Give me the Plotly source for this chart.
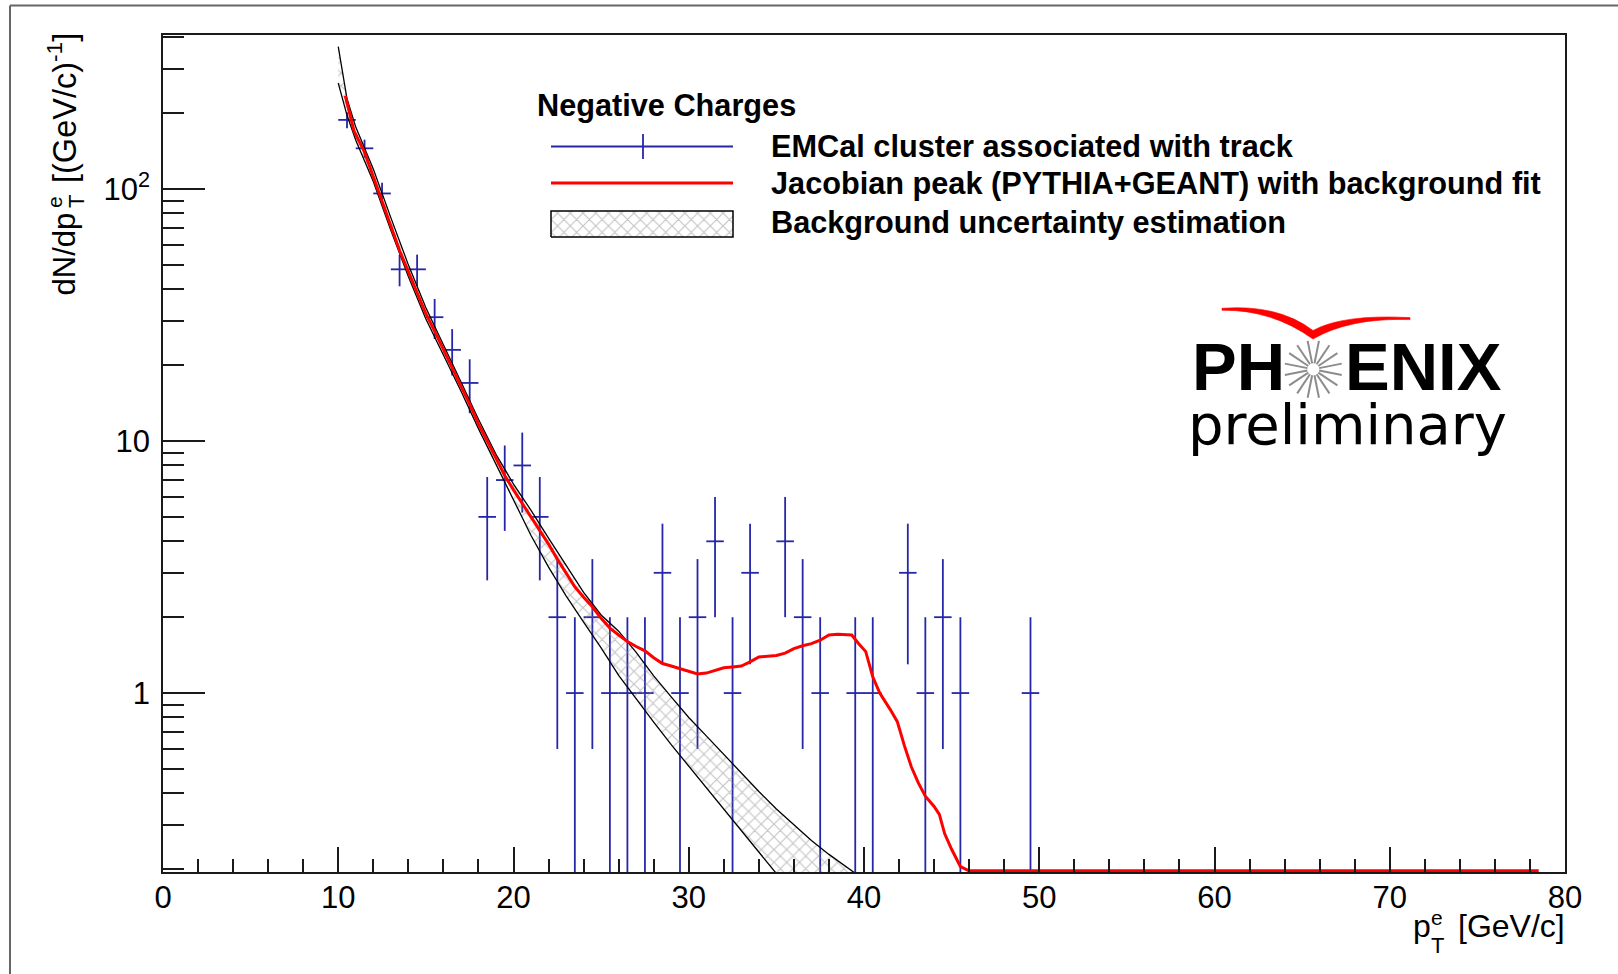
import math
import plotly.graph_objects as go

# ---------------- data ----------------
pt_centers = [10.5, 11.5, 12.5, 13.5, 14.5, 15.5, 16.5, 17.5, 18.5, 19.5, 20.5, 21.5,
              22.5, 23.5, 24.5, 25.5, 26.5, 27.5, 28.5, 29.5, 30.5, 31.5, 32.5, 33.5,
              35.5, 36.5, 37.5, 39.5, 40.5, 42.5, 43.5, 44.5, 45.5, 49.5]
counts = [188, 145, 96, 48, 48, 31, 23, 17, 5, 7, 8, 5,
          2, 1, 2, 1, 1, 1, 3, 1, 2, 4, 1, 3,
          4, 2, 1, 1, 1, 3, 1, 2, 1, 1]
count_err = [13.7, 12.0, 9.8, 6.9, 6.9, 5.6, 4.8, 4.1, 2.2, 2.6, 2.8, 2.2,
             1.4, 1.0, 1.4, 1.0, 1.0, 1.0, 1.7, 1.0, 1.4, 2.0, 1.0, 1.7,
             2.0, 1.4, 1.0, 1.0, 1.0, 1.7, 1.0, 1.4, 1.0, 1.0]
bin_half_width = 0.5

# Jacobian peak (PYTHIA+GEANT) with background fit
red_x = [10.4, 10.9, 11.5, 12.0, 12.5, 13.0, 13.5, 14.0, 14.5, 15.0, 15.5, 16.0,
         16.5, 17.0, 17.5, 18.0, 18.5, 19.0, 19.5, 20.0, 20.5, 21.0, 21.5, 22.0,
         22.5, 23.0, 23.5, 24.0, 24.5, 25.0, 25.5, 26.0, 26.5, 27.0, 27.5, 28.0,
         28.5, 29.0, 29.5, 30.0, 30.5, 31.0, 31.5, 32.0, 32.5, 33.0, 33.5, 34.0,
         34.5, 35.0, 35.5, 36.0, 36.5, 37.0, 37.5, 38.0, 38.5, 39.0, 39.3, 39.7,
         40.1, 40.5, 40.9, 41.5, 41.9, 42.3, 42.7, 43.1, 43.5, 44.0, 44.3, 44.6,
         45.0, 45.5, 46.0, 78.5]
red_y = [234, 170, 140, 112, 89, 72, 57, 47, 38.5, 32, 27.3, 23,
         19.5, 16.5, 14.0, 11.7, 10.0, 8.5, 7.3, 6.4, 5.65, 5.05, 4.45, 3.9,
         3.4, 3.0, 2.64, 2.4, 2.2, 1.98, 1.81, 1.7, 1.6, 1.53, 1.47, 1.38,
         1.31, 1.28, 1.25, 1.22, 1.19, 1.20, 1.23, 1.26, 1.27, 1.28, 1.33, 1.39,
         1.40, 1.41, 1.44, 1.50, 1.54, 1.57, 1.62, 1.70, 1.71, 1.71, 1.70, 1.57,
         1.46, 1.16, 1.0, 0.86, 0.77, 0.62, 0.51, 0.44, 0.39, 0.355, 0.33, 0.277,
         0.24, 0.205, 0.197, 0.197]

# Background uncertainty band
band_upper_x = [10, 10.5, 11, 12, 13, 14, 15, 16, 17, 18, 19, 20, 21, 22, 23, 24, 25,
                26, 27, 28, 29, 30, 31, 32, 33, 34, 35, 36, 37, 38, 39, 40]
band_upper = [367, 228, 176, 120, 77, 50, 33.8, 24.2, 17.2, 12.2, 8.85, 6.75, 5.31,
              4.12, 3.2, 2.51, 2.04, 1.76, 1.45, 1.17, 0.966, 0.80, 0.676, 0.569,
              0.479, 0.407, 0.347, 0.30, 0.26, 0.229, 0.204, 0.182]
band_lower_x = [10, 10.5, 11, 12, 13, 14, 15, 16, 17, 18, 19, 20, 21, 22, 23, 24, 25,
                26, 27, 28, 29, 30, 31, 32, 33, 34, 35, 36]
band_lower = [263, 196, 156, 107, 68.5, 45, 30.5, 22.0, 15.8, 11.2, 8.05, 5.82, 4.22,
              3.16, 2.43, 1.91, 1.51, 1.175, 0.944, 0.767, 0.624, 0.513, 0.422,
              0.347, 0.285, 0.234, 0.193, 0.158]

x_tick_vals = [0, 10, 20, 30, 40, 50, 60, 70, 80]
x_tick_text = ["0", "10", "20", "30", "40", "50", "60", "70", "80"]
y_tick_vals = [1, 10, 100]
y_tick_text = ["1", "10", "10<sup>2</sup>"]
y_minor_vals = [0.2, 0.3, 0.4, 0.5, 0.6, 0.7, 0.8, 0.9,
                2, 3, 4, 5, 6, 7, 8, 9, 20, 30, 40, 50, 60, 70, 80, 90, 200, 300, 400]

legend_title = "Negative Charges"
legend_labels = ["EMCal cluster associated with track",
                 "Jacobian peak (PYTHIA+GEANT) with background fit",
                 "Background uncertainty estimation"]

# ---------------- styling / layout helpers ----------------
W, H = 1618, 974
PL, PR, PT, PB = 163, 1565, 35, 872   # plot area edges in pixels
BLUE = "#2626a8"
RED = "#ff0000"
AXC = "#1a1a1a"
FONT = "Liberation Sans, Arial, Helvetica, sans-serif"


def px(xp):
    return (xp - PL) / (PR - PL)


def py(yp):
    return (PB - yp) / (PB - PT)


hatch = dict(shape="x", fgcolor="#8a8a8a", bgcolor="rgba(255,255,255,0)",
             size=9, solidity=0.24)

fig = go.Figure()

# data points (crosses, no marker)
fig.add_trace(go.Scatter(
    x=pt_centers, y=counts, mode="markers",
    marker=dict(size=2, color=BLUE, opacity=0),
    error_y=dict(type="data", array=count_err, symmetric=True, color=BLUE,
                 thickness=1.8, width=0),
    error_x=dict(type="constant", value=bin_half_width, color=BLUE,
                 thickness=1.8, width=0),
    hoverinfo="skip"))

# hatched band
fig.add_trace(go.Scatter(
    x=band_upper_x + band_lower_x[::-1],
    y=band_upper + band_lower[::-1],
    mode="lines", line=dict(width=0), fill="toself",
    fillcolor="rgba(255,255,255,0)", fillpattern=hatch, hoverinfo="skip"))
fig.add_trace(go.Scatter(x=band_upper_x, y=band_upper, mode="lines",
                         line=dict(color="black", width=1.3), hoverinfo="skip"))
fig.add_trace(go.Scatter(x=band_lower_x, y=band_lower, mode="lines",
                         line=dict(color="black", width=1.3), hoverinfo="skip"))

# red curve
fig.add_trace(go.Scatter(x=red_x, y=red_y, mode="lines",
                         line=dict(color=RED, width=3), hoverinfo="skip"))

# legend hatched box (overlay axes in plot-fraction units)
bx0, bx1, by0, by1 = px(551), px(733), py(237), py(211)
fig.add_trace(go.Scatter(
    x=[bx0, bx1, bx1, bx0, bx0], y=[by0, by0, by1, by1, by0],
    xaxis="x2", yaxis="y2", mode="lines",
    line=dict(color="black", width=1.5), fill="toself",
    fillcolor="rgba(255,255,255,0)", fillpattern=hatch, hoverinfo="skip"))

shapes = []
# legend samples
shapes.append(dict(type="line", xref="paper", yref="paper",
                   x0=px(551), x1=px(733), y0=py(146.5), y1=py(146.5),
                   line=dict(color=BLUE, width=1.8)))
shapes.append(dict(type="line", xref="paper", yref="paper",
                   x0=px(643), x1=px(643), y0=py(134), y1=py(159),
                   line=dict(color=BLUE, width=1.8)))
shapes.append(dict(type="line", xref="paper", yref="paper",
                   x0=px(551), x1=px(733), y0=py(183), y1=py(183),
                   line=dict(color=RED, width=3)))
# canvas border (left + top)
shapes.append(dict(type="line", xref="paper", yref="paper",
                   x0=px(10), x1=px(10), y0=py(974), y1=py(5.5),
                   line=dict(color="#666666", width=2)))
shapes.append(dict(type="line", xref="paper", yref="paper",
                   x0=px(10), x1=px(1618), y0=py(5.5), y1=py(5.5),
                   line=dict(color="#666666", width=2)))


def P(a, b):
    return f"{px(a):.5f},{py(b):.5f}"


# PHENIX logo: red swoosh (smooth crescent)
path = ("M " + P(1222, 308.3)
        + " Q " + P(1278, 304) + " " + P(1313, 330.5)
        + " Q " + P(1343, 314) + " " + P(1410, 317.6)
        + " L " + P(1410, 319.6)
        + " Q " + P(1350, 317.5) + " " + P(1313, 339)
        + " Q " + P(1272, 309.5) + " " + P(1222, 310.3) + " Z")
shapes.append(dict(type="path", xref="paper", yref="paper", path=path,
                   fillcolor=RED, line=dict(color=RED, width=0.6)))
# PHENIX logo: sunburst
cx, cy = 1313.3, 369.3
for k in range(16):
    a = 2 * math.pi * k / 16 + math.pi / 16
    shapes.append(dict(type="line", xref="paper", yref="paper",
                       x0=px(cx + 6 * math.cos(a)), y0=py(cy + 6 * math.sin(a)),
                       x1=px(cx + 29 * math.cos(a)), y1=py(cy + 29 * math.sin(a)),
                       line=dict(color="#8c8c8c", width=2)))

ann = []


def text(t, x, y, size, xanchor="left", yanchor="middle", bold=False,
         family=FONT, angle=0, color="black"):
    ann.append(dict(text=(f"<b>{t}</b>" if bold else t), x=px(x), y=py(y),
                    xref="paper", yref="paper", xanchor=xanchor, yanchor=yanchor,
                    showarrow=False, textangle=angle,
                    font=dict(family=family, size=size, color=color)))


# legend texts
text(legend_title, 535, 105, 30.7, bold=True)
text(legend_labels[0], 769, 147, 30.7, bold=True)
text(legend_labels[1], 769, 183, 30.7, bold=True)
text(legend_labels[2], 769, 222, 30.7, bold=True)

# x axis title  p_T^e [GeV/c]
text("[GeV/c]", 1567, 926, 32, xanchor="right")
text("p", 1411, 926, 32)
text("e", 1437, 917, 21, xanchor="center")
text("T", 1437.5, 945, 22, xanchor="center")

# y axis title  dN/dp_T^e [(GeV/c)^-1]  (rotated)
text("dN/dp", 64, 298, 31, xanchor="center", yanchor="bottom", angle=-90)
text("T", 77, 202, 22, xanchor="center", angle=-90)
text("e", 55, 202, 21, xanchor="center", angle=-90)
text("[(GeV/c)<sup>-1</sup>]", 62, 31, 32.5, xanchor="center", yanchor="top", angle=-90)

# PHENIX preliminary
text("<b>PH</b>", 1190, 366, 67)
text("<b>ENIX</b>", 1343, 366, 67)
text("preliminary", 1186, 425, 56, family="DejaVu Sans, Verdana, sans-serif")

fig.update_layout(
    width=W, height=H,
    margin=dict(l=PL, r=W - PR, t=PT, b=H - PB),
    paper_bgcolor="white", plot_bgcolor="white",
    showlegend=False,
    shapes=shapes, annotations=ann,
    xaxis=dict(range=[0, 80], showgrid=False, zeroline=False,
               showline=True, linecolor=AXC, linewidth=1.5, mirror=True,
               ticks="inside", ticklen=25, tickwidth=1.5, tickcolor=AXC,
               tickmode="array", tickvals=x_tick_vals, ticktext=x_tick_text,
               tickfont=dict(family=FONT, size=31, color="black"),
               ticklabelstandoff=-3,
               minor=dict(ticks="inside", ticklen=13, tickwidth=1.5,
                          tickcolor=AXC, dtick=2, tick0=0)),
    yaxis=dict(type="log", range=[-0.710, 2.611], showgrid=False, zeroline=False,
               showline=True, linecolor=AXC, linewidth=1.5, mirror=True,
               ticks="inside", ticklen=42, tickwidth=1.5, tickcolor=AXC,
               tickmode="array", tickvals=y_tick_vals, ticktext=y_tick_text,
               tickfont=dict(family=FONT, size=31, color="black"),
               ticklabelstandoff=5,
               minor=dict(ticks="inside", ticklen=21, tickwidth=1.5,
                          tickcolor=AXC, tickmode="array", tickvals=y_minor_vals)),
    xaxis2=dict(overlaying="x", anchor="y2", range=[0, 1], visible=False),
    yaxis2=dict(overlaying="y", anchor="x2", range=[0, 1], visible=False),
)

fig.write_html("out.html")
